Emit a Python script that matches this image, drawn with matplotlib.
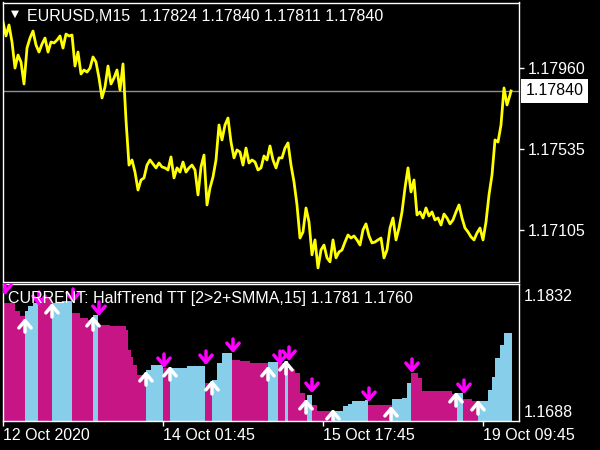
import matplotlib
matplotlib.use("Agg")
import matplotlib.pyplot as plt
from matplotlib.transforms import blended_transform_factory

# ------------------------------------------------------------------ data
symbol_title = "EURUSD,M15  1.17824 1.17840 1.17811 1.17840"
indicator_title = "CURRENT: HalfTrend TT [2>2+SMMA,15] 1.1781 1.1760"
last_price = 1.17840

# close prices sampled every 3rd M15 bar (bar 0 = first visible bar)
price_close = [
    1.18205, 1.18131, 1.18189, 1.18099, 1.17961, 1.18030, 1.17993, 1.17877, 1.18067, 1.18120,
    1.18157, 1.18083, 1.18046, 1.18088, 1.18120, 1.18046, 1.18099, 1.18094, 1.18109, 1.18131,
    1.18067, 1.18141, 1.18131, 1.18136, 1.17972, 1.18046, 1.17930, 1.17951, 1.17940, 1.17961,
    1.18020, 1.17993, 1.17909, 1.17803, 1.17861, 1.17972, 1.17877, 1.17909, 1.17951, 1.17845,
    1.17983, 1.17686, 1.17448, 1.17475, 1.17411, 1.17316, 1.17369, 1.17380, 1.17448, 1.17475,
    1.17454, 1.17433, 1.17459, 1.17438, 1.17433, 1.17422, 1.17491, 1.17380, 1.17433, 1.17411,
    1.17464, 1.17411, 1.17433, 1.17448, 1.17422, 1.17290, 1.17438, 1.17501, 1.17237, 1.17327,
    1.17385, 1.17475, 1.17660, 1.17581, 1.17660, 1.17697, 1.17570, 1.17486, 1.17528, 1.17517,
    1.17448, 1.17538, 1.17459, 1.17475, 1.17464, 1.17422, 1.17433, 1.17496, 1.17475, 1.17549,
    1.17475, 1.17433, 1.17486, 1.17486, 1.17538, 1.17565, 1.17448, 1.17359, 1.17237, 1.17062,
    1.17094, 1.17221, 1.17147, 1.16973, 1.17052, 1.16904, 1.16999, 1.17025, 1.16957, 1.16936,
    1.17052, 1.16957, 1.16988, 1.16999, 1.17041, 1.17078, 1.17062, 1.17073, 1.17052, 1.17025,
    1.17105, 1.17137, 1.17073, 1.17036, 1.17041, 1.17052, 1.17062, 1.16957, 1.16999, 1.17115,
    1.17168, 1.17052, 1.17115, 1.17200, 1.17327, 1.17433, 1.17306, 1.17369, 1.17184, 1.17200,
    1.17168, 1.17221, 1.17179, 1.17200, 1.17158, 1.17168, 1.17131, 1.17189, 1.17168, 1.17137,
    1.17158, 1.17200, 1.17237, 1.17168, 1.17115, 1.17094, 1.17068, 1.17052, 1.17089, 1.17115,
    1.17052, 1.17147, 1.17290, 1.17396, 1.17581, 1.17570, 1.17660, 1.17856, 1.17766, 1.17819,
    1.17840,
]
price_bar = list(range(0, 510, 3)) + [508]

main_ticks = [1.17960, 1.17535, 1.17105]
ind_ticks = [1.1832, 1.1688]
time_tick_bars = [0, 160, 320, 480]
time_tick_labels = ["12 Oct 2020", "14 Oct 01:45", "15 Oct 17:45", "19 Oct 09:45"]

# HalfTrend histogram: runs of bars [start, end) with level and trend (1 up, -1 down)
seg_start = [0, 12, 17, 22, 25, 30, 35, 49, 59, 69, 77, 85, 90, 95, 107, 123, 125, 128, 130, 134,
             143, 148, 160, 167, 184, 202, 209, 214, 219, 229, 237, 247, 265, 275, 282, 285, 292,
             297, 302, 304, 309, 314, 330, 340, 345, 349, 362, 365, 389, 399, 404, 408, 415, 419,
             449, 454, 460, 469, 475, 485, 489, 492, 497, 501]
seg_end = [12, 17, 22, 25, 30, 35, 49, 59, 69, 77, 85, 90, 95, 107, 123, 125, 128, 130, 134, 143,
           148, 160, 167, 184, 202, 209, 214, 219, 229, 237, 247, 265, 275, 282, 285, 292, 297,
           302, 304, 309, 314, 330, 340, 345, 349, 362, 365, 389, 399, 404, 408, 415, 419, 449,
           454, 460, 469, 475, 485, 489, 492, 497, 501, 509]
seg_level = [1.18221, 1.18121, 1.18059, 1.18121, 1.18183, 1.18221, 1.18283, 1.18221, 1.18245,
             1.18096, 1.18034, 1.18010, 1.18072, 1.17948, 1.17935, 1.17886, 1.17637, 1.17550,
             1.17451, 1.17327, 1.17389, 1.17451, 1.17414, 1.17414, 1.17439, 1.17228, 1.17265,
             1.17476, 1.17600, 1.17513, 1.17501, 1.17476, 1.17488, 1.17476, 1.17501, 1.17401,
             1.17352, 1.17103, 1.17017, 1.17079, 1.16954, 1.16880, 1.16880, 1.16942, 1.16967,
             1.17004, 1.17017, 1.16954, 1.17029, 1.17041, 1.17228, 1.17352, 1.17290, 1.17128,
             1.17091, 1.17103, 1.17029, 1.17004, 1.17004, 1.17141, 1.17302, 1.17538, 1.17699,
             1.17848]
seg_trend = [-1, -1, -1, 1, 1, 1, -1, 1, 1, -1, -1, -1, 1, -1, -1, -1, -1, -1, -1, -1,
             1, 1, -1, 1, 1, -1, 1, 1, 1, -1, -1, -1, 1, -1, 1, -1, -1,
             -1, -1, 1, -1, -1, 1, 1, 1, 1, 1, -1, 1, 1, 1, -1, -1, -1,
             -1, 1, -1, -1, 1, 1, 1, 1, 1, 1]

up_arrow_bar = [22, 49, 90, 143, 167, 209, 265, 283, 303, 330, 388, 453, 475]
up_arrow_level = [1.18034, 1.18221, 1.18059, 1.17376, 1.17439, 1.17265, 1.17439, 1.17513,
                  1.17029, 1.16905, 1.16942, 1.17116, 1.17017]
down_arrow_bar = [2, 36, 70, 96, 161, 203, 230, 277, 286, 309, 366, 409, 461]
down_arrow_level = [1.18320, 1.18183, 1.18221, 1.18059, 1.17414, 1.17451, 1.17600, 1.17451,
                    1.17501, 1.17103, 1.16992, 1.17352, 1.17091]

# ------------------------------------------------------------------ style
plt.rcParams["font.family"] = ["Liberation Sans", "DejaVu Sans"]
FS = 11.5
UP_COL = "#87CEEB"
DN_COL = "#C71585"
W, H = 600, 450


def fx(px):
    return px / W


def fy(py):
    return 1 - py / H


fig = plt.figure(figsize=(6, 4.5), dpi=100, facecolor="black")
ax = fig.add_axes([fx(2.5), fy(281.5), fx(518.5) - fx(2.5), fy(2.5) - fy(281.5)])
ax2 = fig.add_axes([fx(2.5), fy(420.5), fx(518.5) - fx(2.5), fy(283.5) - fy(420.5)])

for a in (ax, ax2):
    a.set_facecolor("black")
    for s in a.spines.values():
        s.set_color("white")
        s.set_linewidth(1)
    a.set_xlim(-0.5, 515.5)

# ---- main price panel
ax.set_ylim(1.16832, 1.18308)
ax.axhline(last_price, color="#8c9099", lw=1, zorder=1)
ax.plot(price_bar, price_close, color="#FFFF00", lw=2.0, zorder=2)
ax.set_xticks([])
ax.yaxis.tick_right()
ax.set_yticks(main_ticks, labels=[f"{v:.5f}" for v in main_ticks])
ax.tick_params(axis="y", colors="white", length=3.5, width=1, pad=3, labelsize=FS)

tr = blended_transform_factory(ax.transAxes, ax.transData)
ax.text((525.5 - 2.5) / 516, last_price, f"{last_price:.5f}", transform=tr, ha="left",
        va="center", fontsize=FS, color="black", clip_on=False,
        bbox=dict(boxstyle="square,pad=0.3", fc="white", ec="none"))

fig.text(fx(27), fy(20.7), symbol_title, ha="left", va="baseline", fontsize=FS, color="white")
fig.text(fx(14.5), fy(13.5), "\u25BC", ha="center", va="center", fontsize=7.5,
         family="DejaVu Sans", color="white")

# ---- indicator panel
base = 1.16762
ax2.set_ylim(base, 1.18463)
for s, e, lv, t in zip(seg_start, seg_end, seg_level, seg_trend):
    ax2.bar(s - 0.5, lv - base, width=e - s, bottom=base, align="edge",
            color=UP_COL if t > 0 else DN_COL, linewidth=0, zorder=2)

arrow_kw = dict(arrowstyle="->,head_length=0.4,head_width=0.34", lw=2.5,
                shrinkA=0, shrinkB=0, mutation_scale=13)
for b, lv in zip(up_arrow_bar, up_arrow_level):
    an = ax2.annotate("", xy=(b, lv), xytext=(0, -14), textcoords="offset pixels",
                      arrowprops=dict(color="white", **arrow_kw), zorder=4)
    an.arrow_patch.set_clip_box(ax2.bbox)
for b, lv in zip(down_arrow_bar, down_arrow_level):
    an = ax2.annotate("", xy=(b, lv), xytext=(0, 14), textcoords="offset pixels",
                      arrowprops=dict(color="#FF00FF", **arrow_kw), zorder=4)
    an.arrow_patch.set_clip_box(ax2.bbox)

ax2.yaxis.tick_right()
ax2.set_yticks(ind_ticks, labels=[f"{v:.4f}" for v in ind_ticks])
ax2.tick_params(axis="y", colors="white", length=0, pad=3.5, labelsize=FS)
ax2.set_xticks(time_tick_bars, labels=time_tick_labels)
ax2.tick_params(axis="x", colors="white", length=3.5, width=1, pad=2, labelsize=FS)
for lab in ax2.get_xticklabels():
    lab.set_ha("left")

fig.text(fx(7.5), fy(302.7), indicator_title, ha="left", va="baseline", fontsize=FS,
         color="white", zorder=5)

fig.savefig("out.png", dpi=100, facecolor="black")
